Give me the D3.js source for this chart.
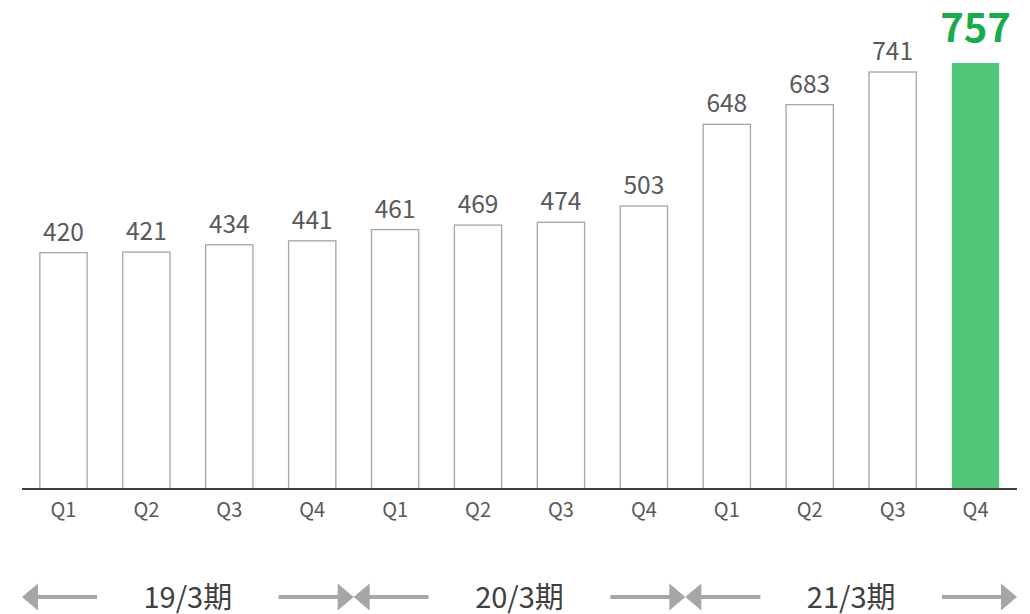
<!DOCTYPE html>
<html>
<head>
<meta charset="utf-8">
<script src="https://cdn.jsdelivr.net/npm/d3@7"></script>
<style>
  html, body { margin: 0; padding: 0; background: #fff; }
  svg { display: block; }
  text { font-family: "Noto Sans CJK JP", "Noto Sans", sans-serif; }
</style>
</head>
<body>
<svg id="chart" width="1030" height="614"></svg>
<script>
// Quarterly values, three fiscal years
const quarters = ["Q1","Q2","Q3","Q4","Q1","Q2","Q3","Q4","Q1","Q2","Q3","Q4"];
const values   = [420, 421, 434, 441, 461, 469, 474, 503, 648, 683, 741, 757];
const periods  = ["19/3期", "20/3期", "21/3期"];
const highlightIndex = 11;

const svg = d3.select("#chart");
const left = 22, right = 1017, baseY = 489;

const x = d3.scaleBand()
  .domain(d3.range(values.length))
  .range([left, right])
  .paddingInner(0.43)
  .paddingOuter(0.215);

const y = d3.scaleLinear()
  .domain([0, 757])
  .range([baseY, 63]);

// Bars
svg.append("g").selectAll("rect")
  .data(values)
  .join("rect")
  .attr("x", (d, i) => x(i))
  .attr("y", d => y(d))
  .attr("width", x.bandwidth())
  .attr("height", d => baseY - y(d))
  .attr("fill", (d, i) => i === highlightIndex ? "#52c77a" : "#ffffff")
  .attr("stroke", (d, i) => i === highlightIndex ? "none" : "#a6a6a6")
  .attr("stroke-width", 1.3);

// Value labels
svg.append("g").selectAll("text")
  .data(values)
  .join("text")
  .attr("x", (d, i) => x(i) + x.bandwidth() / 2)
  .attr("y", (d, i) => i === highlightIndex ? y(d) - 21 : y(d) - 12)
  .attr("text-anchor", "middle")
  .attr("font-family", (d, i) => i === highlightIndex ? "'Liberation Sans', Arial, sans-serif" : null)
  .attr("font-size", (d, i) => i === highlightIndex ? 40 : 24.5)
  .attr("font-weight", (d, i) => i === highlightIndex ? 700 : 400)
  .attr("fill", (d, i) => i === highlightIndex ? "#1aaa4a" : "#595959")
  .text(d => d);

// Baseline
svg.append("line")
  .attr("x1", left).attr("x2", right)
  .attr("y1", baseY).attr("y2", baseY)
  .attr("stroke", "#404040")
  .attr("stroke-width", 2);

// Quarter labels
svg.append("g").selectAll("text")
  .data(quarters)
  .join("text")
  .attr("x", (d, i) => x(i) + x.bandwidth() / 2)
  .attr("y", 517)
  .attr("text-anchor", "middle")
  .attr("font-size", 20)
  .attr("fill", "#595959")
  .text(d => d);

// Fiscal-period spans with arrows
const arrowY = 597;
const gray = "#a6a6a6";
const headLen = 16, headHalf = 13.5, lineLen = 75;
const pg = svg.append("g");
periods.forEach((p, k) => {
  const start = k === 0 ? left : (x(k * 4 - 1) + x.bandwidth() + x(k * 4)) / 2;
  const end = k === periods.length - 1 ? right : (x(k * 4 + 3) + x.bandwidth() + x(k * 4 + 4)) / 2;
  const cx = (start + end) / 2;

  // arrow pointing back to the period start
  pg.append("line")
    .attr("x1", start + headLen - 1).attr("x2", start + lineLen)
    .attr("y1", arrowY).attr("y2", arrowY)
    .attr("stroke", gray).attr("stroke-width", 4);
  pg.append("path")
    .attr("d", `M${start},${arrowY} L${start + headLen},${arrowY - headHalf} L${start + headLen},${arrowY + headHalf} Z`)
    .attr("fill", gray);

  // arrow pointing forward to the period end
  pg.append("line")
    .attr("x1", end - lineLen).attr("x2", end - headLen + 1)
    .attr("y1", arrowY).attr("y2", arrowY)
    .attr("stroke", gray).attr("stroke-width", 4);
  pg.append("path")
    .attr("d", `M${end},${arrowY} L${end - headLen},${arrowY - headHalf} L${end - headLen},${arrowY + headHalf} Z`)
    .attr("fill", gray);

  pg.append("text")
    .attr("x", cx)
    .attr("y", 608)
    .attr("text-anchor", "middle")
    .attr("font-size", 29)
    .attr("fill", "#404040")
    .text(p);
});
</script>
</body>
</html>
